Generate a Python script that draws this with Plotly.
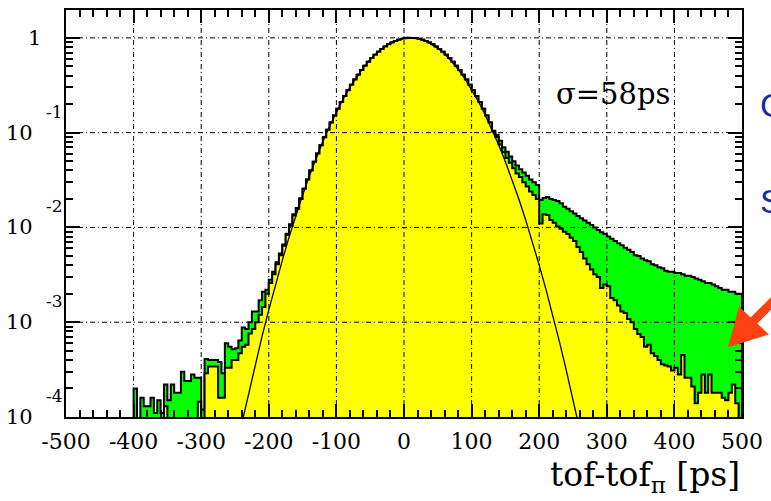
import numpy as np
import plotly.graph_objects as go

# ---------------- data ----------------
BIN_START = -500.0
BIN_WIDTH = 5.0

# total (green) histogram, 5 ps bins from -500 to 500
green = [
    0, 0, 0, 0, 0, 0, 0, 0, 0, 0,
    0, 0, 0, 0, 0, 0, 0, 0, 0, 0,
    2.0e-4, 0, 1.6e-4, 1.3e-4, 1.3e-4, 1.6e-4, 1.1e-4, 1.5e-4, 1.1e-4, 2.2e-4,
    1.5e-4, 2.2e-4, 1.8e-4, 1.8e-4, 3.0e-4, 2.4e-4, 2.4e-4, 2.8e-4, 2.6e-4, 2.6e-4,
    1.2e-4, 4.1e-4, 4.0e-4, 4.0e-4, 4.0e-4, 3.8e-4, 2.9e-4, 6.0e-4, 5.5e-4, 5.2e-4,
    5.3e-4, 6.4e-4, 8.8e-4, 8.5e-4, 1.0e-3, 1.3e-3, 1.3e-3, 1.7e-3, 2.1e-3, 2.2e-3,
    2.8e-3, 3.4e-3, 4.3e-3, 5.3e-3, 6.6e-3, 8.6e-3, 0.0108, 0.0138, 0.0160, 0.0203,
    0.0256, 0.0320, 0.0398, 0.0492, 0.0604, 0.0737, 0.0893, 0.107, 0.128, 0.152,
    0.179, 0.210, 0.243, 0.280, 0.320, 0.364, 0.409, 0.458, 0.508, 0.560,
    0.612, 0.664, 0.715, 0.764, 0.811, 0.855, 0.894, 0.928, 0.955, 0.977,
    0.992, 1.0, 1.0, 0.992, 0.977, 0.955, 0.928, 0.894, 0.855, 0.811,
    0.764, 0.715, 0.664, 0.612, 0.560, 0.508, 0.458, 0.409, 0.364, 0.320,
    0.280, 0.243, 0.210, 0.179, 0.152, 0.128, 0.105, 0.095, 0.082, 0.070,
    0.063, 0.056, 0.050, 0.045, 0.041, 0.038, 0.035, 0.032, 0.030, 0.028,
    0.0195, 0.0205, 0.021, 0.020, 0.0195, 0.019, 0.018, 0.0165, 0.0157, 0.0148,
    0.014, 0.0132, 0.0125, 0.0118, 0.0112, 0.0106, 0.0100, 0.0094, 0.0089, 0.0085,
    0.0080, 0.0076, 0.0072, 0.0068, 0.0065, 0.0061, 0.0058, 0.0055, 0.0051, 0.0050,
    0.0047, 0.0045, 0.0044, 0.0041, 0.0040, 0.0038, 0.0037, 0.0035, 0.0034, 0.0034,
    0.0033, 0.0033, 0.0032, 0.0031, 0.0031, 0.0030, 0.0029, 0.0028, 0.0027, 0.0026,
    0.0026, 0.0025, 0.0024, 0.0023, 0.0022, 0.0022, 0.0021, 0.0021, 0.0020, 0.0020,
]

# selected (yellow) histogram, same binning
yellow = [
    0, 0, 0, 0, 0, 0, 0, 0, 0, 0,
    0, 0, 0, 0, 0, 0, 0, 0, 0, 0,
    0, 0, 0, 0, 0, 0, 0, 0, 0, 1.3e-4,
    0, 0, 0, 0, 0, 0, 0, 0, 0, 1.45e-4,
    0, 2.9e-4, 3.4e-4, 3.4e-4, 3.4e-4, 1.6e-4, 1.6e-4, 3.3e-4, 3.3e-4, 4.0e-4,
    4.0e-4, 4.7e-4, 5.5e-4, 5.8e-4, 7.6e-4, 8.5e-4, 1.0e-3, 1.2e-3, 1.45e-3, 2.0e-3,
    2.6e-3, 3.2e-3, 4.1e-3, 5.1e-3, 6.4e-3, 8.3e-3, 0.0104, 0.0134, 0.0157, 0.0200,
    0.0256, 0.0320, 0.0398, 0.0492, 0.0604, 0.0737, 0.0893, 0.107, 0.128, 0.152,
    0.179, 0.210, 0.243, 0.280, 0.320, 0.364, 0.409, 0.458, 0.508, 0.560,
    0.612, 0.664, 0.715, 0.764, 0.811, 0.855, 0.894, 0.928, 0.955, 0.977,
    0.992, 1.0, 1.0, 0.992, 0.977, 0.955, 0.928, 0.894, 0.855, 0.811,
    0.764, 0.715, 0.664, 0.612, 0.560, 0.508, 0.458, 0.409, 0.364, 0.320,
    0.280, 0.243, 0.210, 0.179, 0.152, 0.128, 0.103, 0.090, 0.075, 0.062,
    0.054, 0.048, 0.042, 0.037, 0.034, 0.030, 0.027, 0.024, 0.022, 0.020,
    0.011, 0.0138, 0.0135, 0.0120, 0.0112, 0.0102, 0.0097, 0.0090, 0.0085, 0.0078,
    0.0072, 0.0062, 0.0055, 0.0047, 0.0041, 0.0036, 0.0032, 0.0030, 0.0023, 0.0025,
    0.0024, 0.0018, 0.0017, 0.0015, 0.0013, 0.00125, 0.00108, 0.0010, 0.00085, 0.00075,
    0.00070, 0.00055, 0.00058, 0.00047, 0.00044, 0.00040, 0.00036, 0.00035, 0.00034, 0.00031,
    0.00033, 0.00028, 0.00045, 0.00026, 0.00026, 0.00021, 0.00014, 0.00018, 0.00028, 0.00018,
    0.00028, 0.00018, 0.00018, 0.00018, 0.00016, 0.00015, 0.00018, 0.00022, 0.00014, 0.00009,
]

# gaussian fit curve (sigma = 58 ps), sampled every 10 ps
fit_x = [-240, -230, -220, -210, -200, -190, -180, -170, -160, -150, -140, -130,
         -120, -110, -100, -90, -80, -70, -60, -50, -40, -30, -20, -10, 0,
         10, 20, 30, 40, 50, 60, 70, 80, 90, 100, 110, 120, 130, 140, 150,
         160, 170, 180, 190, 200, 210, 220, 230, 240, 250, 260]
fit_y = [8.5e-5, 1.77e-4, 3.6e-4, 7.1e-4, 1.35e-3, 2.51e-3, 4.5e-3, 7.9e-3, 0.0133, 0.0219,
         0.0348, 0.0538, 0.0807, 0.117, 0.166, 0.227, 0.302, 0.389, 0.487, 0.591,
         0.695, 0.795, 0.881, 0.947, 0.988, 1.0, 0.982, 0.936, 0.865, 0.775,
         0.675, 0.569, 0.467, 0.371, 0.286, 0.214, 0.155, 0.109, 0.0746, 0.0494,
         0.0318, 0.0198, 0.0120, 7.05e-3, 4.0e-3, 2.22e-3, 1.19e-3, 6.2e-4, 3.13e-4, 1.53e-4,
         7.3e-5]

x_tick_vals = [-500, -400, -300, -200, -100, 0, 100, 200, 300, 400, 500]
x_grid_vals = [-400, -300, -200, -100, 0, 100, 200, 300, 400]
y_decade_exps = [-4, -3, -2, -1]
y_grid_exps = [-3, -2, -1, 0]
sigma_text = "σ=58ps"
x_title = "tof-tof<sub>π</sub> [ps]"
side_letters = ["C", "S"]

# ---------------- styling / geometry ----------------
W, H = 771, 501
ML, MR, MT, MB = 66, 28, 8, 84
YMIN, YMAX = -4.0, 0.294
FLOOR = 1e-7
SERIF = "DejaVu Serif"
SANS = "Liberation Sans"
PLOT_W = W - ML - MR
PLOT_H = H - MT - MB


def px_to_paper_x(px):
    return (px - ML) / PLOT_W


def py_to_paper_y(py):
    return (H - MB - py) / PLOT_H


def step_path(vals):
    edges = BIN_START + BIN_WIDTH * np.arange(len(vals) + 1)
    xs, ys = [edges[0]], [FLOOR]
    for i, v in enumerate(vals):
        v = v if v > 0 else FLOOR
        xs += [edges[i], edges[i + 1]]
        ys += [v, v]
    xs.append(edges[-1])
    ys.append(FLOOR)
    return xs, ys


fig = go.Figure()

gx, gy = step_path(green)
fig.add_trace(go.Scatter(x=gx, y=gy, mode="lines", fill="toself",
                         fillcolor="#00ff00", line=dict(color="black", width=2),
                         hoverinfo="skip", showlegend=False))
yx, yy = step_path(yellow)
fig.add_trace(go.Scatter(x=yx, y=yy, mode="lines", fill="toself",
                         fillcolor="#ffff00", line=dict(color="black", width=2),
                         hoverinfo="skip", showlegend=False))
fig.add_trace(go.Scatter(x=fit_x, y=fit_y, mode="lines",
                         line=dict(color="black", width=1.3),
                         hoverinfo="skip", showlegend=False))

shapes = []
for xv in x_grid_vals:
    shapes.append(dict(type="line", xref="x", yref="paper", x0=xv, x1=xv, y0=0, y1=1,
                       line=dict(color="black", width=1, dash="5px,3px,1px,3px"),
                       layer="above"))
for e in y_grid_exps:
    yp = (e - YMIN) / (YMAX - YMIN)
    shapes.append(dict(type="line", xref="paper", yref="paper", x0=0, x1=1, y0=yp, y1=yp,
                       line=dict(color="black", width=1, dash="5px,3px,1px,3px"),
                       layer="above"))

# red arrow (slide decoration)
ARROW = "#ff4013"
tip = (px_to_paper_x(729), py_to_paper_y(347))
c1 = (px_to_paper_x(740), py_to_paper_y(306))
c2 = (px_to_paper_x(770), py_to_paper_y(334))
shapes.append(dict(type="path", xref="paper", yref="paper",
                   path=f"M {tip[0]} {tip[1]} L {c1[0]} {c1[1]} L {c2[0]} {c2[1]} Z",
                   fillcolor=ARROW, line=dict(width=0), layer="above"))
shapes.append(dict(type="line", xref="paper", yref="paper",
                   x0=px_to_paper_x(752), y0=py_to_paper_y(323),
                   x1=px_to_paper_x(800), y1=py_to_paper_y(275),
                   line=dict(color=ARROW, width=9), layer="above"))

annotations = []
for e in y_decade_exps:
    annotations.append(dict(text="10", xref="paper", yref="y", x=0, y=e,
                            xanchor="right", yanchor="middle", xshift=-31,
                            showarrow=False, font=dict(family=SERIF, size=21, color="black")))
    annotations.append(dict(text=str(e), xref="paper", yref="y", x=0, y=e,
                            xanchor="left", yanchor="middle", xshift=-22, yshift=21,
                            showarrow=False, font=dict(family=SERIF, size=17, color="black")))
annotations.append(dict(text="1", xref="paper", yref="y", x=0, y=0,
                        xanchor="right", yanchor="middle", xshift=-23,
                        showarrow=False, font=dict(family=SERIF, size=21, color="black")))
annotations.append(dict(text=sigma_text, xref="paper", yref="paper",
                        x=px_to_paper_x(555), y=py_to_paper_y(92),
                        xanchor="left", yanchor="middle", showarrow=False,
                        font=dict(family=SERIF, size=29, color="black")))
annotations.append(dict(text=x_title, xref="paper", yref="paper",
                        x=1, y=py_to_paper_y(477), xanchor="right", yanchor="middle",
                        showarrow=False, font=dict(family=SERIF, size=33, color="black")))
for letter, py in zip(side_letters, [103, 200]):
    annotations.append(dict(text=letter, xref="paper", yref="paper",
                            x=px_to_paper_x(759), y=py_to_paper_y(py),
                            xanchor="left", yanchor="middle", showarrow=False,
                            font=dict(family=SANS, size=34, color="#1a2a9e")))

minor_y = [k * 10.0 ** n for n in range(-4, 1) for k in range(2, 10)]

fig.update_layout(
    width=W, height=H,
    margin=dict(l=ML, r=MR, t=MT, b=MB, pad=0),
    paper_bgcolor="white", plot_bgcolor="white",
    showlegend=False,
    shapes=shapes, annotations=annotations,
    xaxis=dict(
        range=[-500, 500], tickmode="array", tickvals=x_tick_vals,
        ticktext=[str(v) for v in x_tick_vals],
        ticks="inside", ticklen=13, tickwidth=2, tickcolor="black",
        minor=dict(tickmode="linear", tick0=-500, dtick=20, ticks="inside",
                   ticklen=7, tickwidth=1.5, tickcolor="black", showgrid=False),
        showline=True, linewidth=2, linecolor="black", mirror="allticks",
        showgrid=False, zeroline=False, layer="above traces",
        tickfont=dict(family=SERIF, size=22, color="black"),
        ticklabelstandoff=4,
    ),
    yaxis=dict(
        type="log", range=[YMIN, YMAX], tickmode="array",
        tickvals=[10.0 ** e for e in [-4, -3, -2, -1, 0]],
        showticklabels=False,
        ticks="inside", ticklen=14, tickwidth=2, tickcolor="black",
        minor=dict(tickmode="array", tickvals=minor_y, ticks="inside",
                   ticklen=7, tickwidth=1.5, tickcolor="black", showgrid=False),
        showline=True, linewidth=2, linecolor="black", mirror="allticks",
        showgrid=False, zeroline=False, layer="above traces",
    ),
)

fig.write_html("out.html")
